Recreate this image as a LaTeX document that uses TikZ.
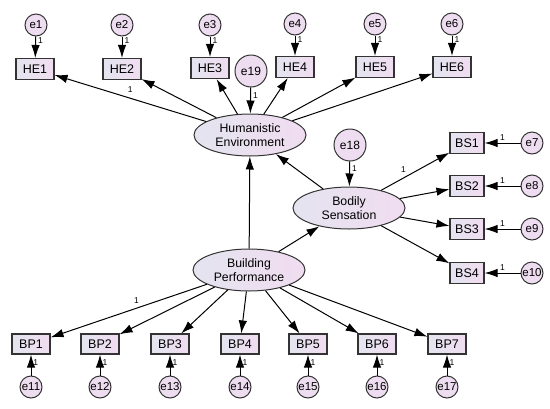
\documentclass[tikz,border=0pt]{standalone}
\usepackage{fontspec}
\setmainfont{Liberation Sans}
\usetikzlibrary{shapes.geometric,arrows.meta}
\definecolor{lav}{HTML}{E4E4F0}
\definecolor{pnk}{HTML}{F0DCF0}
\definecolor{errc}{HTML}{EEDDF0}
\begin{document}
\begin{tikzpicture}[x=1pt,y=-1pt,
  obs/.style={rectangle,draw=black!80,line width=1.1pt,minimum width=38pt,minimum height=21pt,inner sep=1pt,left color=lav,right color=pnk,font=\fontsize{12.5}{13}\selectfont},
  lat/.style={ellipse,draw=black!80,line width=1pt,minimum width=112pt,minimum height=42pt,inner sep=0pt,left color=lav,right color=pnk,align=center,font=\fontsize{12.3}{13.8}\selectfont},
  err/.style={circle,draw=black!80,line width=1pt,minimum size=22pt,inner sep=0pt,fill=errc,font=\fontsize{11.5}{12}\selectfont},
  errb/.style={err,minimum size=32pt,font=\fontsize{12}{12}\selectfont},
  arr/.style={-{Latex[length=13pt,width=8.5pt]},line width=1pt},
  one/.style={font=\fontsize{8.5}{9}\selectfont,inner sep=1pt}]
\useasboundingbox (0,0) rectangle (550,408);
% observed HE
\node[obs] (he1) at (35,69) {HE1};
\node[obs] (he2) at (122,69) {HE2};
\node[obs] (he3) at (210,68) {HE3};
\node[obs] (he4) at (295,67) {HE4};
\node[obs] (he5) at (375,67) {HE5};
\node[obs] (he6) at (452,67) {HE6};
\node[err] (e1) at (36,25) {e1};
\node[err] (e2) at (122,25) {e2};
\node[err] (e3) at (210,25) {e3};
\node[err] (e4) at (295,24) {e4};
\node[err] (e5) at (375,24) {e5};
\node[err] (e6) at (452,24) {e6};
\node[errb] (e19) at (251,71) {e19};
% latent
\node[lat] (he) at (250,135) {Humanistic\\Environment};
\node[lat] (bs) at (349,208) {Bodily\\Sensation};
\node[lat] (bp) at (249,270) {Building\\Performance};
\node[errb] (e18) at (350,145) {e18};
% BS
\node[obs,minimum width=34pt] (bs1) at (467,143) {BS1};
\node[obs,minimum width=34pt] (bs2) at (467,186) {BS2};
\node[obs,minimum width=34pt] (bs3) at (467,229) {BS3};
\node[obs,minimum width=34pt] (bs4) at (467,273) {BS4};
\node[err] (e7) at (532,143) {e7};
\node[err] (e8) at (532,186) {e8};
\node[err] (e9) at (532,229) {e9};
\node[err] (e10) at (532,273) {e10};
% BP
\node[obs,minimum height=20pt] (bp1) at (31,344) {BP1};
\node[obs,minimum height=20pt] (bp2) at (100,344) {BP2};
\node[obs,minimum height=20pt] (bp3) at (170,344) {BP3};
\node[obs,minimum height=20pt] (bp4) at (240,344) {BP4};
\node[obs,minimum height=20pt] (bp5) at (308,344) {BP5};
\node[obs,minimum height=20pt] (bp6) at (377,344) {BP6};
\node[obs,minimum height=20pt] (bp7) at (447,344) {BP7};
\node[err] (e11) at (31,387) {e11};
\node[err] (e12) at (100,387) {e12};
\node[err] (e13) at (170,387) {e13};
\node[err] (e14) at (240,387) {e14};
\node[err] (e15) at (308,387) {e15};
\node[err] (e16) at (377,387) {e16};
\node[err] (e17) at (447,387) {e17};
% error arrows HE
\foreach \e/\h in {e1/he1,e2/he2,e3/he3,e4/he4,e5/he5,e6/he6}{
  \draw[arr] (\e) -- (\h) node[one,pos=0.2,right=1pt] {1};
}
\draw[arr] (e19) -- (he) node[one,pos=0.3,right=1pt] {1};
\draw[arr] (e18) -- (bs) node[one,pos=0.3,right=1pt] {1};
% loadings HE
\draw[arr] (he) -- (he1) node[one,pos=0.5,above=4pt] {1};
\foreach \h in {he2,he3,he4,he5,he6}{ \draw[arr] (he) -- (\h); }
% BS
\draw[arr] (bs) -- (bs1) node[one,pos=0.4,above left=1pt] {1};
\foreach \b in {bs2,bs3,bs4}{ \draw[arr] (bs) -- (\b); }
\foreach \e/\b in {e7/bs1,e8/bs2,e9/bs3,e10/bs4}{
  \draw[arr] (\e) -- (\b) node[one,pos=0.5,above=1pt] {1};
}
% BP
\draw[arr] (bp) -- (bp1) node[one,pos=0.45,above=3pt] {1};
\foreach \b in {bp2,bp3,bp4,bp5,bp6,bp7}{ \draw[arr] (bp) -- (\b); }
\foreach \e/\b in {e11/bp1,e12/bp2,e13/bp3,e14/bp4,e15/bp5,e16/bp6,e17/bp7}{
  \draw[arr] (\e) -- (\b) node[one,pos=0.62,right=1pt] {1};
}
% structural
\draw[arr] (bp) -- (he);
\draw[arr] (bp) -- (bs);
\draw[arr] (bs) -- (he);
\end{tikzpicture}
\end{document}
